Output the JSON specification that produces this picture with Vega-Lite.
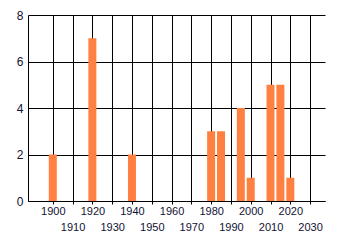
{
  "$schema": "https://vega.github.io/schema/vega-lite/v6.json",
  "autosize": {"type": "none"},
  "width": 297,
  "height": 186,
  "padding": {"left": 28, "top": 15, "right": 15, "bottom": 44},
  "background": "white",
  "config": {
    "view": {"stroke": null},
    "font": "Liberation Sans"
  },
  "data": {
    "values": [
      {"year": 1900, "count": 2},
      {"year": 1920, "count": 7},
      {"year": 1940, "count": 2},
      {"year": 1980, "count": 3},
      {"year": 1985, "count": 3},
      {"year": 1995, "count": 4},
      {"year": 2000, "count": 1},
      {"year": 2010, "count": 5},
      {"year": 2015, "count": 5},
      {"year": 2020, "count": 1}
    ]
  },
  "mark": {"type": "bar", "size": 8, "color": "#ff8040"},
  "encoding": {
    "x": {
      "field": "year",
      "type": "quantitative",
      "scale": {"domain": [1890, 2035], "nice": false, "zero": false},
      "axis": {
        "title": null,
        "values": [1900, 1910, 1920, 1930, 1940, 1950, 1960, 1970, 1980, 1990, 2000, 2010, 2020, 2030],
        "format": "d",
        "grid": true,
        "gridColor": "black",
        "gridOpacity": 1,
        "domainColor": "black",
        "tickColor": "black",
        "tickSize": 3,
        "labelColor": "#111133",
        "labelFontSize": 11,
        "labelBaseline": "top",
        "labelPadding": {"expr": "datum.value % 20 == 0 ? 1 : 17"},
        "labelOverlap": false,
        "labelFlush": false
      }
    },
    "y": {
      "field": "count",
      "type": "quantitative",
      "scale": {"domain": [0, 8], "nice": false},
      "axis": {
        "title": null,
        "values": [0, 2, 4, 6, 8],
        "grid": true,
        "gridColor": "black",
        "gridOpacity": 1,
        "domainColor": "black",
        "ticks": false,
        "labelPadding": 5,
        "labelColor": "#111133",
        "labelFontSize": 12,
        "labelFlush": false
      }
    }
  }
}
